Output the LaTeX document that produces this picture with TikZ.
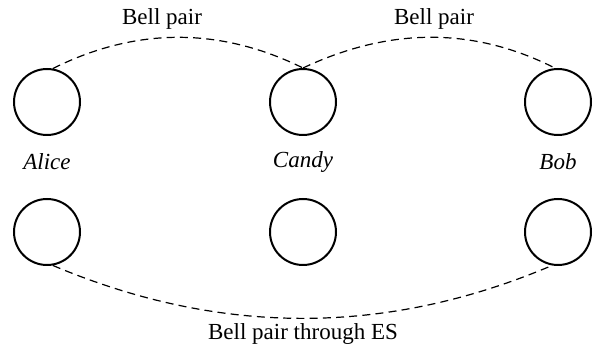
\documentclass[tikz,border=0pt]{standalone}
\usepackage{fontspec}
\setmainfont{Liberation Serif}
\begin{document}
\begin{tikzpicture}[x=0.5pt,y=-0.5pt,
  qubit/.style={circle,draw,line width=1pt,minimum size=33pt,inner sep=0pt},
  link/.style={dashed,dash pattern=on 4pt off 2.6pt,line width=0.6pt},
  lbl/.style={font=\fontsize{11.5}{13}\selectfont,inner sep=0pt},
  pname/.style={font=\fontsize{11.5}{13}\selectfont\itshape,inner sep=0pt}]
\useasboundingbox (0,0) rectangle (600,347);
\node[qubit] (a) at (47,102) {};
\node[qubit] (c) at (303,102) {};
\node[qubit] (b) at (558,102) {};
\node[qubit] (a2) at (47,232) {};
\node[qubit] (c2) at (303,232) {};
\node[qubit] (b2) at (558,232) {};
\node[pname] (an) at (47,162) {Alice};
\node[pname] (cn) at (303,162) {Candy};
\node[pname] (bn) at (558,162) {Bob};
\node[lbl] (l1) at (162,19) {Bell pair};
\node[lbl] (l2) at (434,19) {Bell pair};
\node[lbl] (l3) at (303,334) {Bell pair through ES};
\draw[link] (a.80) .. controls (136,27) and (220,27) .. (c.90);
\draw[link] (c.90) .. controls (390,27) and (474,27) .. (b.95);
\draw[link] (a2.-80) .. controls (220,336) and (386,336) .. (b2.-100);
\end{tikzpicture}
\end{document}
